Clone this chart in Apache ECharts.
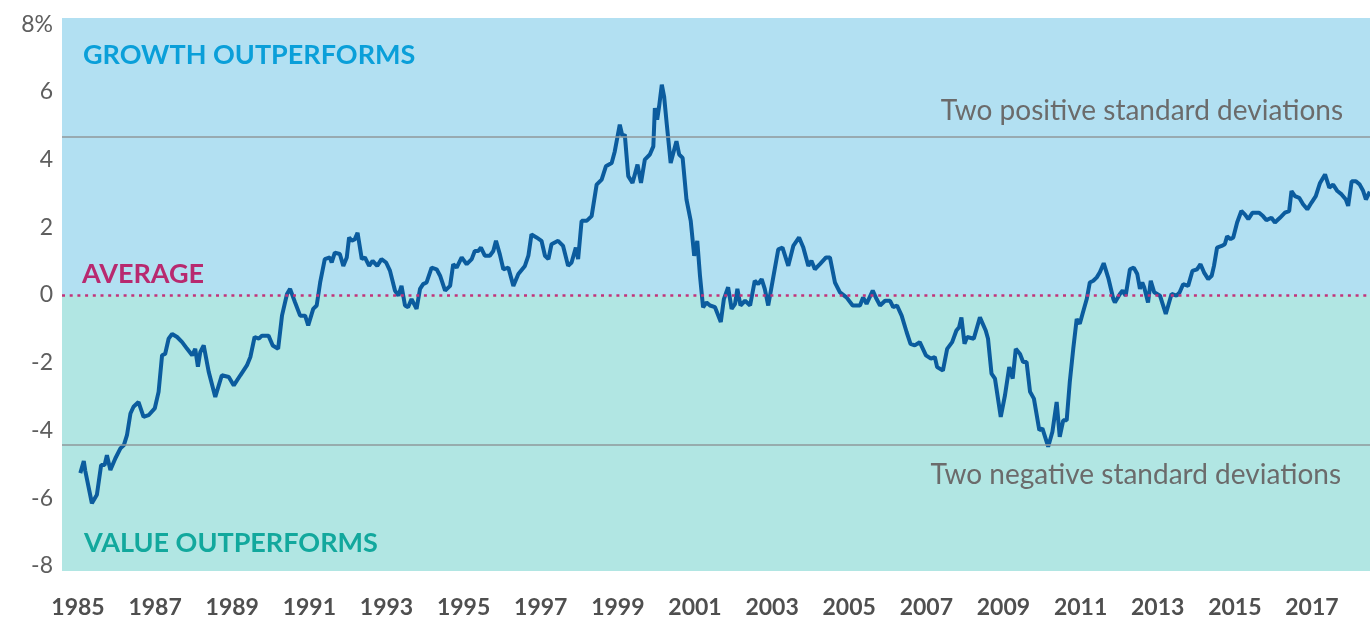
<!DOCTYPE html>
<html>
<head>
<meta charset="utf-8">
<script src="https://cdn.jsdelivr.net/npm/echarts@6/dist/echarts.min.js"></script>
<style>
html, body { margin: 0; padding: 0; background: #fff; }
#chart { width: 1370px; height: 619px; }
</style>
</head>
<body>
<div id="chart"></div>
<script>
// growth minus value spread (decimal year, %)
var years = [
    1985.06, 1985.15, 1985.19, 1985.36, 1985.49, 1985.60, 1985.69, 1985.75, 1985.84, 1985.97,
    1986.10, 1986.19, 1986.27, 1986.36, 1986.44, 1986.57, 1986.70, 1986.83, 1986.99,
    1987.09, 1987.18, 1987.26, 1987.35, 1987.44, 1987.57, 1987.70, 1987.83, 1987.96,
    1988.04, 1988.11, 1988.17, 1988.26, 1988.39, 1988.56, 1988.73, 1988.91,
    1989.04, 1989.21, 1989.38, 1989.47, 1989.58, 1989.69, 1989.77, 1989.94,
    1990.05, 1990.19, 1990.29, 1990.42, 1990.50, 1990.63, 1990.76, 1990.89, 1990.97,
    1991.10, 1991.19, 1991.28, 1991.40, 1991.53, 1991.58, 1991.66, 1991.79, 1991.88, 1991.97,
    1992.03, 1992.10, 1992.18, 1992.25, 1992.36, 1992.44, 1992.55, 1992.64, 1992.76, 1992.87, 1992.99,
    1993.09, 1993.22, 1993.31, 1993.39, 1993.48, 1993.56, 1993.65, 1993.78, 1993.87, 1993.95,
    1994.04, 1994.17, 1994.30, 1994.39, 1994.52, 1994.65, 1994.73, 1994.82, 1994.95,
    1995.08, 1995.21, 1995.29, 1995.38, 1995.45, 1995.55, 1995.68, 1995.77, 1995.84, 1995.94,
    1996.03, 1996.16, 1996.29, 1996.42, 1996.59, 1996.68, 1996.76, 1996.89,
    1997.02, 1997.11, 1997.20, 1997.28, 1997.45, 1997.58, 1997.71, 1997.80, 1997.91, 1997.97,
    1998.06, 1998.19, 1998.32, 1998.45, 1998.58, 1998.69, 1998.84, 1998.92,
    1999.05, 1999.12, 1999.18, 1999.27, 1999.38, 1999.51, 1999.60, 1999.70, 1999.83, 1999.92, 1999.96,
    2000.02, 2000.07, 2000.14, 2000.20, 2000.27, 2000.37, 2000.44, 2000.52, 2000.59, 2000.68, 2000.78, 2000.89, 2000.98,
    2001.06, 2001.13, 2001.21, 2001.30, 2001.39, 2001.52, 2001.67, 2001.75, 2001.86, 2001.95,
    2002.04, 2002.10, 2002.18, 2002.30, 2002.43, 2002.55, 2002.64, 2002.73, 2002.81, 2002.90,
    2003.03, 2003.16, 2003.27, 2003.42, 2003.55, 2003.70, 2003.81, 2003.94,
    2004.02, 2004.11, 2004.24, 2004.40, 2004.50, 2004.63, 2004.76, 2004.93,
    2005.09, 2005.28, 2005.36, 2005.45, 2005.61, 2005.71, 2005.80, 2005.93,
    2006.06, 2006.14, 2006.24, 2006.36, 2006.49, 2006.59, 2006.70, 2006.83, 2006.99,
    2007.12, 2007.22, 2007.28, 2007.43, 2007.54, 2007.67, 2007.78, 2007.85, 2007.91, 2007.99,
    2008.06, 2008.23, 2008.39, 2008.54, 2008.60, 2008.69, 2008.78, 2008.93,
    2009.04, 2009.15, 2009.24, 2009.32, 2009.43, 2009.51, 2009.60, 2009.69, 2009.79, 2009.93,
    2010.01, 2010.16, 2010.27, 2010.38, 2010.46, 2010.55, 2010.64, 2010.72, 2010.81, 2010.90, 2010.98,
    2011.05, 2011.16, 2011.24, 2011.33, 2011.42, 2011.50, 2011.60, 2011.72, 2011.85, 2011.89,
    2012.02, 2012.09, 2012.17, 2012.28, 2012.38, 2012.47, 2012.54, 2012.60, 2012.65, 2012.75, 2012.82, 2012.91,
    2013.06, 2013.21, 2013.36, 2013.49, 2013.57, 2013.66, 2013.79, 2013.90,
    2014.02, 2014.11, 2014.20, 2014.31, 2014.40, 2014.46, 2014.54, 2014.66, 2014.74, 2014.80, 2014.89, 2014.96,
    2015.06, 2015.17, 2015.26, 2015.35, 2015.46, 2015.63, 2015.73, 2015.82, 2015.95,
    2016.04, 2016.17, 2016.30, 2016.41, 2016.47, 2016.56, 2016.67, 2016.77, 2016.88, 2016.99,
    2017.10, 2017.21, 2017.34, 2017.45, 2017.55, 2017.66, 2017.77, 2017.88, 2017.94,
    2018.03, 2018.14, 2018.24, 2018.33, 2018.40, 2018.50
];
var spread = [
    -5.26, -4.90, -5.20, -6.15, -5.90, -5.02, -5.02, -4.73, -5.17, -4.82,
    -4.53, -4.43, -4.14, -3.50, -3.30, -3.16, -3.60, -3.55, -3.35,
    -2.86, -1.78, -1.74, -1.29, -1.15, -1.24, -1.39, -1.59, -1.78,
    -1.59, -2.12, -1.69, -1.49, -2.27, -3.01, -2.37, -2.42,
    -2.67, -2.37, -2.08, -1.83, -1.24, -1.29, -1.20, -1.20,
    -1.49, -1.59, -0.61, 0.03, 0.18, -0.22, -0.61, -0.61, -0.90,
    -0.41, -0.31, 0.37, 1.06, 1.11, 0.96, 1.25, 1.21, 0.86, 1.11,
    1.70, 1.60, 1.65, 1.84, 1.06, 1.11, 0.86, 1.01, 0.86, 1.06, 0.96,
    0.72, 0.13, -0.02, 0.27, -0.31, -0.36, -0.12, -0.41, 0.18, 0.32,
    0.37, 0.81, 0.76, 0.57, 0.13, 0.27, 0.91, 0.81, 1.11,
    0.91, 1.06, 1.30, 1.30, 1.40, 1.16, 1.16, 1.30, 1.60, 1.20,
    0.76, 0.81, 0.27, 0.62, 0.86, 1.16, 1.79, 1.70,
    1.60, 1.16, 1.06, 1.50, 1.60, 1.45, 0.86, 0.96, 1.40, 1.06,
    2.19, 2.19, 2.33, 3.26, 3.41, 3.80, 3.90, 4.24,
    5.03, 4.69, 4.74, 3.51, 3.31, 3.85, 3.31, 4.00, 4.15, 4.39, 5.52,
    5.18, 5.57, 6.21, 5.86, 5.03, 3.90, 4.20, 4.54, 4.15, 4.05, 2.82, 2.19, 1.16,
    1.60, 0.57, -0.36, -0.22, -0.31, -0.36, -0.80, -0.12, 0.23, -0.41,
    -0.26, 0.18, -0.31, -0.17, -0.31, 0.42, 0.32, 0.47, 0.18, -0.31,
    0.52, 1.35, 1.40, 0.86, 1.45, 1.70, 1.40, 0.86,
    1.01, 0.76, 0.91, 1.11, 1.11, 0.37, 0.08, -0.07,
    -0.31, -0.31, -0.07, -0.26, 0.13, -0.12, -0.31, -0.17,
    -0.17, -0.36, -0.31, -0.61, -1.10, -1.44, -1.49, -1.39, -1.78,
    -1.88, -1.83, -2.13, -2.23, -1.59, -1.39, -1.05, -0.95, -0.66, -1.44,
    -1.24, -1.29, -0.66, -1.05, -1.29, -2.32, -2.47, -3.60,
    -2.96, -2.13, -2.47, -1.59, -1.74, -1.98, -1.98, -2.86, -3.06, -3.99,
    -3.94, -4.48, -4.04, -3.16, -4.19, -3.70, -3.70, -2.57, -1.59, -0.71, -0.85,
    -0.56, -0.12, 0.37, 0.42, 0.52, 0.67, 0.94, 0.50, -0.12, -0.22,
    0.03, 0.13, -0.02, 0.76, 0.81, 0.62, 0.18, 0.37, 0.23, -0.22, 0.42, 0.08,
    -0.02, -0.56, 0.03, -0.02, 0.08, 0.32, 0.27, 0.71,
    0.76, 0.91, 0.67, 0.47, 0.57, 0.86, 1.40, 1.45, 1.50, 1.73, 1.65, 1.70,
    2.14, 2.48, 2.38, 2.24, 2.43, 2.43, 2.33, 2.21, 2.28,
    2.14, 2.28, 2.43, 2.48, 3.07, 2.92, 2.87, 2.68, 2.53, 2.73,
    2.92, 3.31, 3.56, 3.17, 3.26, 3.07, 2.97, 2.82, 2.63,
    3.36, 3.36, 3.26, 3.07, 2.82, 3.05
];

var xTicks = [1985, 1987, 1989, 1991, 1993, 1995, 1997, 1999, 2001, 2003, 2005, 2007, 2009, 2011, 2013, 2015, 2017];
var yTicks = [-8, -6, -4, -2, 0, 2, 4, 6, 8];
var average = 0;
var plusTwoSd = 4.68;
var minusTwoSd = -4.41;
var xMin = 1984.585, xMax = 2018.506;
var yMin = -8.15, yMax = 8.18;

var chart = echarts.init(document.getElementById('chart'));

var lineData = [];
for (var i = 0; i < years.length; i++) {
    lineData.push([years[i], spread[i]]);
}

var font = 'Lato, "Noto Sans", sans-serif';
var capsFont = 'bold 27px ' + font;

chart.setOption({
    animation: false,
    grid: { left: 62, right: 0, top: 18, bottom: 46 },
    xAxis: {
        type: 'value',
        min: xMin,
        max: xMax,
        axisLine: { show: false },
        axisTick: { show: false },
        splitLine: { show: false },
        axisLabel: {
            customValues: xTicks,
            formatter: function (v) { return String(v); },
            fontFamily: font,
            fontWeight: 'bold',
            fontSize: 23,
            color: '#4f4f4f',
            margin: 25
        }
    },
    yAxis: {
        type: 'value',
        min: yMin,
        max: yMax,
        axisLine: { show: false },
        axisTick: { show: false },
        splitLine: { show: false },
        axisLabel: {
            customValues: yTicks,
            formatter: function (v) { return v == 8 ? '8%' : String(v); },
            fontFamily: font,
            fontSize: 23,
            color: '#5e5e5e',
            margin: 9
        }
    },
    series: [{
        type: 'line',
        data: lineData,
        symbol: 'none',
        z: 3,
        lineStyle: { color: '#0b5c9e', width: 4 },
        markArea: {
            silent: true,
            data: [
                [{ yAxis: average, itemStyle: { color: '#b2e0f2' } }, { yAxis: yMax }],
                [{ yAxis: yMin, itemStyle: { color: '#b1e6e3' } }, { yAxis: average }]
            ]
        },
        markLine: {
            silent: true,
            symbol: 'none',
            label: { show: false },
            data: [
                { yAxis: average, lineStyle: { type: [3, 4.7], color: '#c2337c', width: 2.5 } },
                { yAxis: plusTwoSd, lineStyle: { type: 'solid', color: '#8f999b', width: 1.5 } },
                { yAxis: minusTwoSd, lineStyle: { type: 'solid', color: '#8f999b', width: 1.5 } }
            ]
        }
    }],
    graphic: [
        { type: 'text', z: 20, left: 83, top: 42, style: { text: 'GROWTH OUTPERFORMS', font: capsFont, fill: '#0a9fd9' } },
        { type: 'text', z: 20, left: 82, top: 261, style: { text: 'AVERAGE', font: capsFont, fill: '#b8296f' } },
        { type: 'text', z: 20, left: 84, top: 530, style: { text: 'VALUE OUTPERFORMS', font: capsFont, fill: '#12a89d' } },
        { type: 'text', z: 20, right: 27, top: 97, style: { text: 'Two positive standard deviations', font: '28px ' + font, fill: '#6b6b6b' } },
        { type: 'text', z: 20, right: 29, top: 461, style: { text: 'Two negative standard deviations', font: '28px ' + font, fill: '#6b6b6b' } }
    ]
});
</script>
</body>
</html>
